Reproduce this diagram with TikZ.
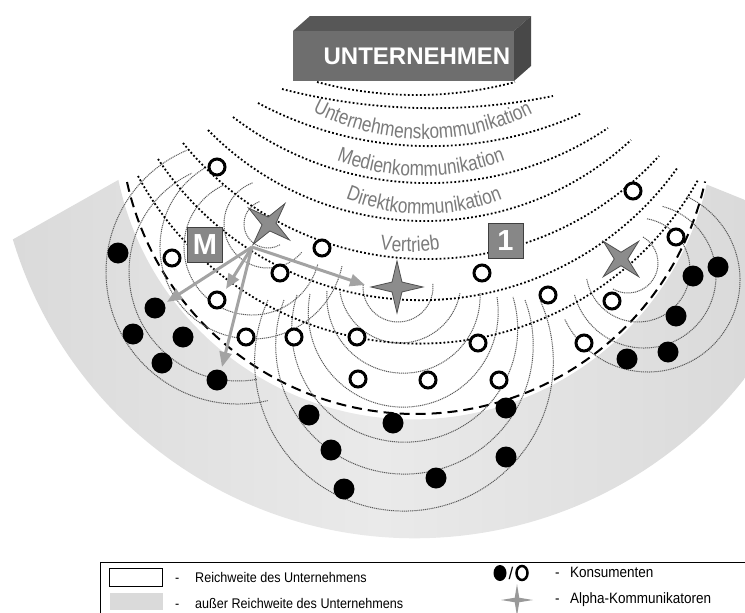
\documentclass[tikz,border=0pt]{standalone}
\usepackage{fontspec}
\setmainfont{Liberation Sans}
\newfontfamily\legfont[FakeStretch=0.9]{Liberation Sans}
\newfontfamily\curvefam[FakeStretch=0.82]{Liberation Sans}
\usetikzlibrary{arrows.meta,shapes.geometric,decorations.text}
\definecolor{boxfront}{HTML}{6E6E6E}
\definecolor{boxtop}{HTML}{575757}
\definecolor{boxside}{HTML}{484848}
\definecolor{txtgray}{HTML}{7A7A7A}
\definecolor{wavegray}{HTML}{5A5A5A}
\definecolor{arrowgray}{HTML}{A3A3A3}
\definecolor{stargray}{HTML}{8C8C8C}
\definecolor{starline}{HTML}{505050}
\definecolor{regL}{HTML}{DADADA}
\definecolor{regM}{HTML}{EAEAEA}
\definecolor{labelbox}{HTML}{878787}
\newcommand\curvefont{\curvefam\fontsize{21}{23}\selectfont}
\newcommand\legsize{\fontsize{14}{16}\selectfont}
\newcommand\legsizeb{\fontsize{15}{17}\selectfont}
% arc through three points (image coordinates)
\newcommand\tparc[7][]{%
 \pgfmathsetmacro\tpAx{#2/100}\pgfmathsetmacro\tpAy{#3/100}%
 \pgfmathsetmacro\tpBx{#4/100}\pgfmathsetmacro\tpBy{#5/100}%
 \pgfmathsetmacro\tpCx{#6/100}\pgfmathsetmacro\tpCy{#7/100}%
 \pgfmathsetmacro\tpD{2*(\tpAx*(\tpBy-\tpCy)+\tpBx*(\tpCy-\tpAy)+\tpCx*(\tpAy-\tpBy))}%
 \pgfmathsetmacro\tpUx{((\tpAx*\tpAx+\tpAy*\tpAy)*(\tpBy-\tpCy)+(\tpBx*\tpBx+\tpBy*\tpBy)*(\tpCy-\tpAy)+(\tpCx*\tpCx+\tpCy*\tpCy)*(\tpAy-\tpBy))/\tpD}%
 \pgfmathsetmacro\tpUy{((\tpAx*\tpAx+\tpAy*\tpAy)*(\tpCx-\tpBx)+(\tpBx*\tpBx+\tpBy*\tpBy)*(\tpAx-\tpCx)+(\tpCx*\tpCx+\tpCy*\tpCy)*(\tpBx-\tpAx))/\tpD}%
 \pgfmathsetmacro\tpR{100*sqrt((\tpAx-\tpUx)^2+(\tpAy-\tpUy)^2)}%
 \pgfmathsetmacro\tpaA{atan2(\tpAy-\tpUy,\tpAx-\tpUx)}%
 \pgfmathsetmacro\tpaB{atan2(\tpBy-\tpUy,\tpBx-\tpUx)}%
 \pgfmathsetmacro\tpaC{atan2(\tpCy-\tpUy,\tpCx-\tpUx)}%
 \pgfmathsetmacro\tpbB{mod(mod(\tpaB-\tpaA,360)+360,360)}%
 \pgfmathsetmacro\tpbC{mod(mod(\tpaC-\tpaA,360)+360,360)}%
 \pgfmathsetmacro\tpE{(\tpbB<\tpbC) ? (\tpaA+\tpbC) : (\tpaA-(360-\tpbC))}%
 \path[#1] (#2,#3) arc[start angle=\tpaA, end angle=\tpE, radius=\tpR];%
}
% arc by centre, radius, start and end angle
\newcommand\carc[6][]{%
 \path[#1] (#2,#3) ++(#5:#4) arc[start angle=#5, end angle=#6, radius=#4];%
}
\begin{document}
\begin{tikzpicture}[x=1pt,y=-1pt,
 comp/.style={draw=black, line width=1.8pt, dash pattern=on 1.8pt off 2.2pt},
 wave/.style={draw=wavegray, line width=1pt, dash pattern=on 1.1pt off 0.8pt},
 reach/.style={draw=black, line width=2pt, dash pattern=on 10pt off 6pt},
 oc/.style={circle, draw=black, line width=3pt, fill=white, minimum size=16pt, inner sep=0pt},
 fc/.style={circle, fill=black, minimum size=21pt, inner sep=0pt},
 alphastar/.style={star, star points=4, star point ratio=3.7, minimum size=52pt, inner sep=0pt, fill=stargray, draw=starline, line width=0.8pt},
 lbl/.style={draw=black!75, line width=0.8pt, fill=labelbox, text=white, font=\fontsize{29}{29}\selectfont\bfseries, minimum size=35pt, inner sep=0pt},
 gar/.style={draw=arrowgray, line width=3pt, -{Triangle[length=15pt,width=12pt]}},
 ctext/.style={decorate, decoration={text along path, text align=center, text color=txtgray}},
 leg/.style={font=\legfont\legsize, anchor=base west, inner sep=0pt},
 legb/.style={font=\legfont\legsizeb, anchor=base west, inner sep=0pt}
]
\useasboundingbox (0,0) rectangle (745,613);
\clip (0,0) rectangle (745,613);

% region outside the reach
\shade[left color=regL, right color=regL, middle color=regM]
  (12.9,239.4) -- (118.4,179.9) arc[start angle=168.2, end angle=12.7, radius=301]
  -- (745,200) -- (745,378) arc[start angle=38.2, end angle=163.2, radius=420] -- cycle;

% reach boundary
\draw[reach] (127,182) arc[start angle=167.5, end angle=12.4, radius=296];

% waves of the alpha communicators
\carc[wave]{238}{272}{132}{77}{247}
\carc[wave]{238}{272}{109}{80}{245}
\carc[wave]{268}{224}{24}{60}{250}
\carc[wave]{268}{224}{44}{40}{250}
\carc[wave]{252}{247}{68}{15}{245}
\carc[wave]{252}{247}{92}{12}{240}
\carc[wave]{398}{287}{35}{-5}{185}
\tparc[wave]{340}{292}{398}{343}{460}{293}
\tparc[wave]{327}{291}{398}{373}{480}{293}
\tparc[wave]{310}{294}{398}{407}{497}{297}
\tparc[wave]{297}{295}{398}{442}{513}{297}
\tparc[wave]{284}{300}{400}{474}{525}{300}
\tparc[wave]{268}{300}{400}{511}{540}{300}
\carc[wave]{648}{280}{92}{-65}{155}
\carc[wave]{644}{276}{72}{-75}{165}
\carc[wave]{638}{270}{52}{-80}{170}
\carc[wave]{628}{263}{30}{-60}{120}

% communication rings of the company
\tparc[comp]{317}{82}{415}{95}{515}{82}
\tparc[comp]{282}{89}{418}{108}{553}{96}
\tparc[comp]{258}{103}{420}{146}{582}{113}
\tparc[comp]{233}{117}{420}{183}{608}{128}
\tparc[comp]{208}{130}{420}{221}{631}{140}
\tparc[comp]{183}{143}{420}{259}{659}{156}
\tparc[comp]{158}{159}{410}{300}{678}{167}
\tparc[comp]{138}{176}{400}{343}{698}{180}

% ring labels
\tparc[ctext, decoration={text={|\curvefont|Unternehmenskommunikation}}]{271}{84}{423}{139}{575}{86}
\tparc[ctext, decoration={text={|\curvefont|Medienkommunikation}}]{271}{123}{421}{176}{571}{123}
\tparc[ctext, decoration={text={|\curvefont|Direktkommunikation}}]{274}{151}{424}{214}{574}{151}
\tparc[ctext, decoration={text={|\curvefont|Vertrieb}}]{260}{184}{410}{252}{560}{184}

% company block
\fill[boxtop] (293,31) -- (310,16) -- (531,16) -- (514,31) -- cycle;
\fill[boxside] (514,31) -- (531,16) -- (531,66) -- (514,81) -- cycle;
\fill[boxfront] (293,31) rectangle (514,81);
\node[text=white, font=\fontsize{24}{24}\selectfont\bfseries, inner sep=0pt] (U) at (417,56) {UNTERNEHMEN};

% consumers
\foreach \x/\y [count=\i] in {217/167,172/258,217/300,280/273,322/248,246/337,294/337,357/337,358/379,428/380,499/380,478/343,482/273,548/295,612/301,584/343,633/191,676/237}
  \node[oc] (o\i) at (\x,\y) {};
\foreach \x/\y [count=\i] in {118/253,155/308,133/334,183/337,162/363,217/380,309/415,393/423,506/408,331/450,506/457,436/478,344/489,718/267,693/276,676/316,668/352,627/359}
  \node[fc] (f\i) at (\x,\y) {};

% alpha communicators
\node[alphastar, shape border rotate=-38] (s1) at (269,224) {};
\node[alphastar] (s2) at (397,287) {};
\node[alphastar, shape border rotate=45, minimum size=50pt] (s3) at (621,259) {};

% influence arrows
\coordinate (O) at (252,247);
\coordinate (t1) at (365,285);
\coordinate (t2) at (167,302);
\coordinate (t3) at (226,289);
\coordinate (t4) at (222,367);
\draw[gar] (O) -- (t1);
\draw[gar] (O) -- (t2);
\draw[gar] (O) -- (t3);
\draw[gar] (O) -- (t4);

% labels
\node[lbl] (M) at (205,245) {M};
\node[lbl] (one) at (505.5,240.5) {1};

% legend
\draw[line width=0.8pt] (100,562) rectangle (760,630);
\node[draw=black, line width=1pt, fill=white, minimum width=53pt, minimum height=18pt, inner sep=0pt] (lw) at (136,577) {};
\node[leg] (ld1) at (175,582) {-};
\node[leg] (lt1) at (195,582) {Reichweite des Unternehmens};
\node[fill=regL, minimum width=53pt, minimum height=17pt, inner sep=0pt] (lg) at (136,601) {};
\node[leg] (ld2) at (175,608) {-};
\node[leg] (lt2) at (195,608) {außer Reichweite des Unternehmens};
\node[ellipse, fill=black, minimum width=13pt, minimum height=16pt, inner sep=0pt] (le1) at (500,573) {};
\node[font=\fontsize{17}{17}\selectfont, inner sep=0pt] (lsl) at (511,573) {/};
\node[ellipse, draw=black, line width=2.5pt, minimum width=11pt, minimum height=14pt, inner sep=0pt] (le2) at (522,573) {};
\node[legb] (ld3) at (555,577) {-};
\node[legb] (lt3) at (570,577) {Konsumenten};
\node[star, star points=4, star point ratio=5, minimum size=32pt, inner sep=0pt, fill=black!40] (ls) at (517,600) {};
\node[legb] (ld4) at (555,603) {-};
\node[legb] (lt4) at (570,603) {Alpha-Kommunikatoren};
\end{tikzpicture}
\end{document}
